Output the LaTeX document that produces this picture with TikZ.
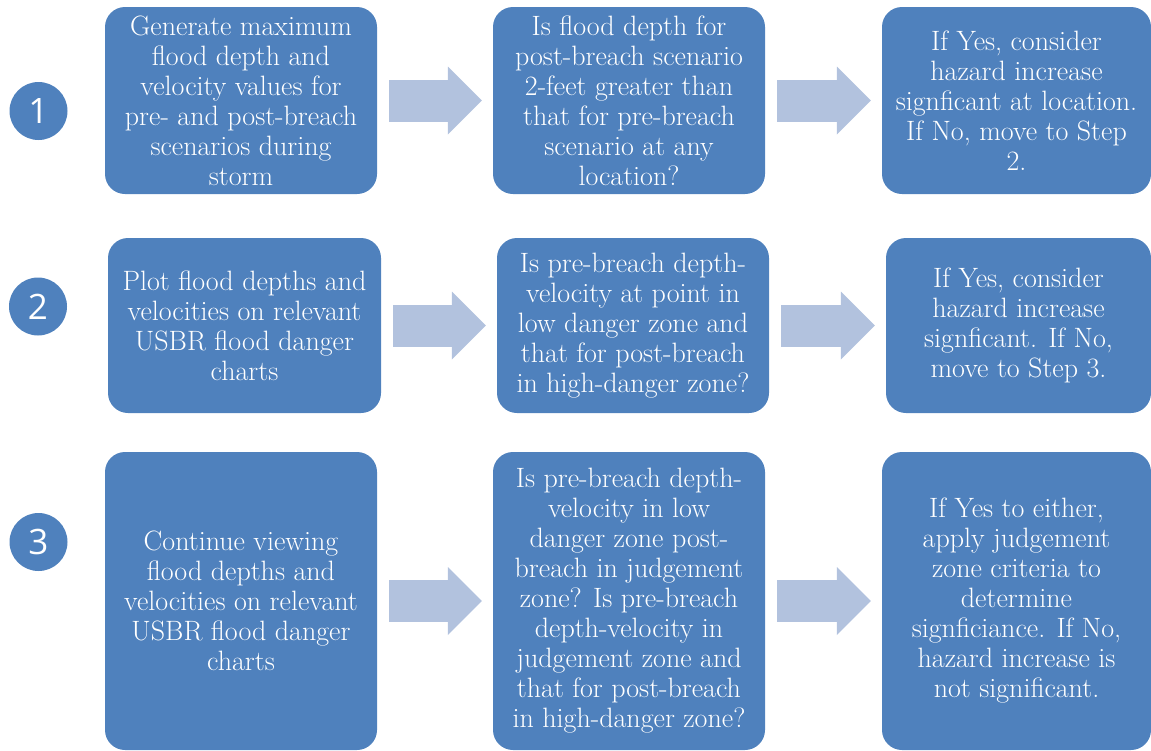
\documentclass[tikz,border=0pt]{standalone}
\usepackage{fontspec}
\newfontfamily\textopaso{Open Sans}
\usepackage{xcolor}
\usepackage{tikz}
\usetikzlibrary{arrows.meta}
\definecolor{AzulCaja}{RGB}{79,129,189}
\definecolor{AzulFlecha}{RGB}{178,194,222}

\begin{document}
\begin{tikzpicture}[x=1pt,y=-1pt,
  caja/.style 2 args={fill=AzulCaja,rounded corners=20pt,text=white,align=center,
    inner sep=0pt,minimum width=#1,minimum height=#2,
    font=\rmfamily\fontsize{28}{30}\selectfont},
  paso/.style={circle,fill=AzulCaja,text=white,minimum size=58pt,inner sep=0pt,
    font=\textopaso\fontsize{35}{35}\selectfont},
  flujo/.style={draw=AzulFlecha,line width=42pt,
    -{Triangle[length=34pt,width=68pt,line width=0pt,fill=AzulFlecha]},
    shorten <=12pt,shorten >=11pt}]
  \useasboundingbox (0,0) rectangle (1151,750);
  % paso 1
  \node[paso] (p1) at (38.5,111) {1};
  \node[caja={272pt}{187pt}] (a1) at (241,100.5)
    {Generate maximum\\flood depth and\\velocity values for\\pre- and post-breach\\scenarios during\\storm};
  \node[caja={272pt}{187pt}] (b1) at (629,100.5)
    {Is flood depth for\\post-breach scenario\\2-feet greater than\\that for pre-breach\\scenario at any\\location?};
  \node[caja={269pt}{187pt}] (c1) at (1016.5,100.5)
    {If Yes, consider\\hazard increase\\signficant at location.\\If No, move to Step\\2.};
  \draw[flujo] (a1) -- (b1);
  \draw[flujo] (b1) -- (c1);
  % paso 2
  \node[paso] (p2) at (38,306.5) {2};
  \node[caja={273pt}{175pt}] (a2) at (244.5,325.5)
    {Plot flood depths and\\velocities on relevant\\USBR flood danger\\charts};
  \node[caja={272pt}{175pt}] (b2) at (633,325.5)
    {Is pre-breach depth-\\velocity at point in\\low danger zone and\\that for post-breach\\in high-danger zone?};
  \node[caja={265pt}{175pt}] (c2) at (1018.5,325.5)
    {If Yes, consider\\hazard increase\\signficant. If No,\\move to Step 3.};
  \draw[flujo] (a2) -- (b2);
  \draw[flujo] (b2) -- (c2);
  % paso 3
  \node[paso] (p3) at (38.5,542) {3};
  \node[caja={272pt}{298pt}] (a3) at (241,601)
    {Continue viewing\\flood depths and\\velocities on relevant\\USBR flood danger\\charts};
  \node[caja={272pt}{298pt}] (b3) at (629,601)
    {Is pre-breach depth-\\velocity in low\\danger zone post-\\breach in judgement\\zone? Is pre-breach\\depth-velocity in\\judgement zone and\\that for post-breach\\in high-danger zone?};
  \node[caja={269pt}{298pt}] (c3) at (1016.5,601)
    {If Yes to either,\\apply judgement\\zone criteria to\\determine\\signficiance. If No,\\hazard increase is\\not significant.};
  \draw[flujo] (a3) -- (b3);
  \draw[flujo] (b3) -- (c3);
\end{tikzpicture}
\end{document}
